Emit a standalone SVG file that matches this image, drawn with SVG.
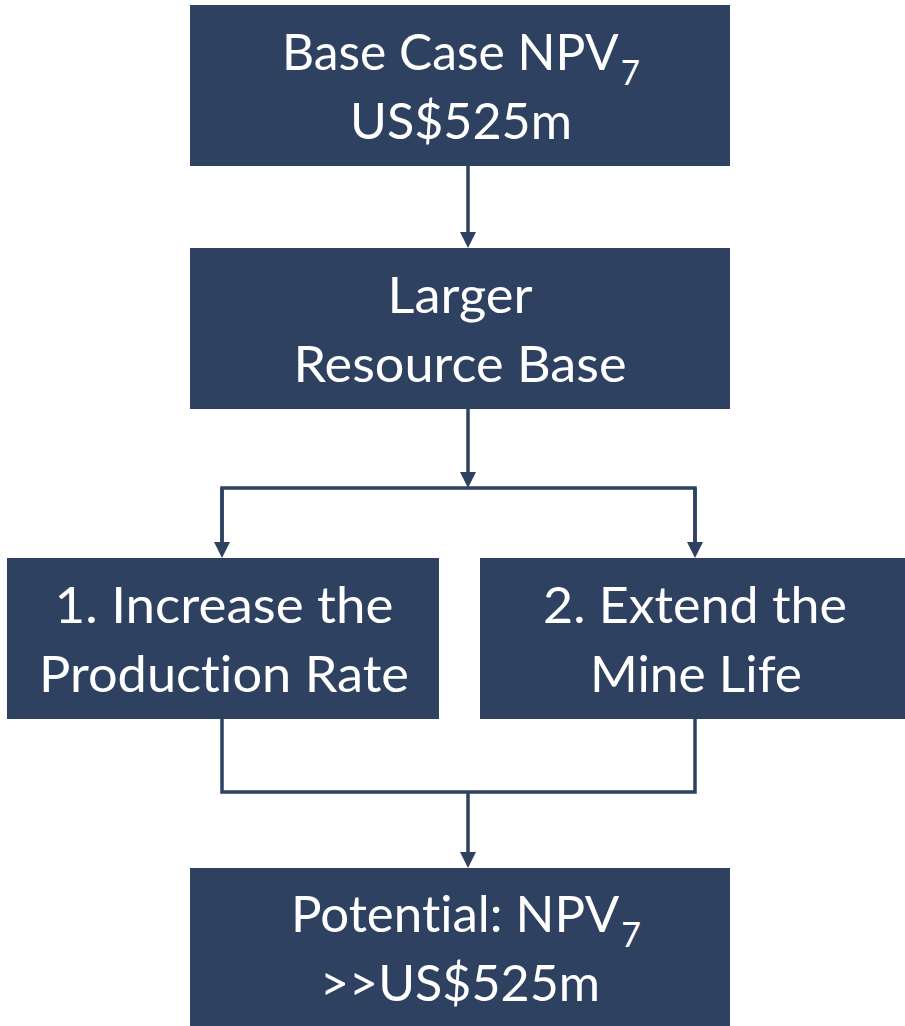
<svg xmlns="http://www.w3.org/2000/svg" width="905" height="1026" viewBox="0 0 905 1026">
  <style>
    .box { fill: #2E4161; }
    .lbl { fill: #FFFFFF; font-family: Lato, "Open Sans", "Liberation Sans", sans-serif; font-size: 51px; text-anchor: middle; font-variant-ligatures: none; font-feature-settings: "liga" 0, "clig" 0; }
    .sub { font-size: 34px; }
    .conn { fill: none; stroke: #2E4161; stroke-width: 3.5; stroke-linejoin: miter; }
  </style>
  <defs>
    <marker id="arrow" markerUnits="userSpaceOnUse" markerWidth="16" markerHeight="16" refX="8" refY="8" orient="auto">
      <path d="M0,0 L16,8 L0,16 Z" fill="#2E4161"/>
    </marker>
  </defs>
  <rect width="905" height="1026" fill="#FFFFFF"/>

  <g id="connectors">
    <path class="conn" d="M468 166 V240" marker-end="url(#arrow)"/>
    <path class="conn" d="M468 409 V480" marker-end="url(#arrow)"/>
    <path class="conn" d="M222 550 V488 H695 V550" />
    <path class="conn" d="M222 488 V550" marker-end="url(#arrow)"/>
    <path class="conn" d="M695 488 V550" marker-end="url(#arrow)"/>
    <path class="conn" d="M222 719 V792 H695 V719"/>
    <path class="conn" d="M468 792 V860" marker-end="url(#arrow)"/>
  </g>

  <g id="base-case">
    <rect class="box" x="190" y="5" width="540" height="161"/>
    <text class="lbl" x="461" y="70" textLength="358" lengthAdjust="spacingAndGlyphs">Base Case NPV<tspan class="sub" dx="2" dy="15">7</tspan></text>
    <text class="lbl" x="461" y="139" textLength="222" lengthAdjust="spacingAndGlyphs">US$525m</text>
  </g>

  <g id="resource-base">
    <rect class="box" x="190" y="248" width="540" height="161"/>
    <text class="lbl" x="460" y="313" textLength="145" lengthAdjust="spacingAndGlyphs">Larger</text>
    <text class="lbl" x="460" y="382" textLength="333" lengthAdjust="spacingAndGlyphs">Resource Base</text>
  </g>

  <g id="production-rate">
    <rect class="box" x="7" y="558" width="432" height="161"/>
    <text class="lbl" x="224" y="623" textLength="339" lengthAdjust="spacingAndGlyphs">1. Increase the</text>
    <text class="lbl" x="224" y="692" textLength="370" lengthAdjust="spacingAndGlyphs">Production Rate</text>
  </g>

  <g id="mine-life">
    <rect class="box" x="480" y="558" width="430" height="161"/>
    <text class="lbl" x="695" y="623" textLength="304" lengthAdjust="spacingAndGlyphs">2. Extend the</text>
    <text class="lbl" x="696" y="692" textLength="212" lengthAdjust="spacingAndGlyphs">Mine Life</text>
  </g>

  <g id="potential">
    <rect class="box" x="190" y="868" width="540" height="161"/>
    <text class="lbl" x="466" y="932" textLength="350" lengthAdjust="spacingAndGlyphs">Potential: NPV<tspan class="sub" dx="2" dy="15">7</tspan></text>
    <text class="lbl" x="460" y="1001" textLength="280" lengthAdjust="spacingAndGlyphs">&gt;&gt;US$525m</text>
  </g>
</svg>
